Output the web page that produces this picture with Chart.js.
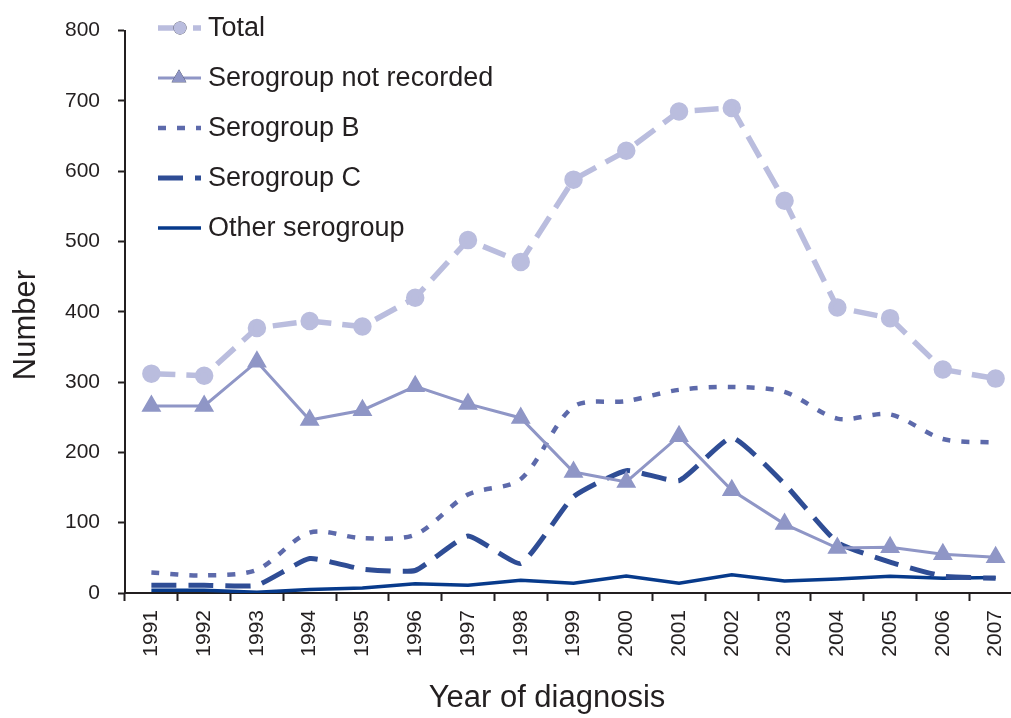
<!DOCTYPE html>
<html>
<head>
<meta charset="utf-8">
<script src="https://cdn.jsdelivr.net/npm/chart.js@4/dist/chart.umd.min.js"></script>
<style>
  html, body { margin: 0; padding: 0; background: #fff; overflow: hidden; }
  /* the source figure is cropped through the last category, so the canvas runs past the right edge */
  #wrap { width: 1011px; height: 718px; overflow: hidden; }
</style>
</head>
<body>
<div id="wrap"><canvas id="chart" width="1034" height="718" style="width:1034px;height:718px"></canvas></div>
<script>
const years = ['1991', '1992', '1993', '1994', '1995', '1996', '1997', '1998', '1999',
  '2000', '2001', '2002', '2003', '2004', '2005', '2006', '2007'];
const total = [312, 309, 377, 387, 379, 420, 502, 471, 588, 629, 685, 690, 558, 406, 391, 318, 305];
const notRecorded = [266, 266, 329, 246, 260, 294, 269, 249, 172, 158, 223, 146, 98, 64, 65, 55, 51];
const serogroupB = [29, 25, 33, 86, 78, 83, 140, 162, 265, 273, 289, 293, 286, 248, 254, 219, 214];
const serogroupC = [11, 11, 11, 49, 34, 32, 81, 42, 137, 174, 160, 221, 155, 72, 44, 24, 21];
const otherGroup = [4, 4, 1, 5, 7, 13, 11, 18, 14, 24, 14, 26, 17, 20, 24, 21, 22];
const yTicks = [0, 100, 200, 300, 400, 500, 600, 700, 800];
const xTitle = 'Year of diagnosis';
const yTitle = 'Number';

const TEXT = '#231f20';
const FONT = "'Liberation Sans', Arial, sans-serif";

// legend inside the plot (top left) and the two axis titles, placed as in the figure
const figureText = {
  id: 'figureText',
  afterDraw(chart) {
    const ctx = chart.ctx;
    const x0 = 158, x1 = 201, tx = 208;
    chart.data.datasets.forEach((ds, i) => {
      const y = 28 + i * 50;
      ctx.save();
      ctx.strokeStyle = ds.borderColor;
      ctx.lineWidth = ds.borderWidth;
      ctx.setLineDash(ds.borderDash || []);
      ctx.beginPath();
      ctx.moveTo(x0, y);
      ctx.lineTo(x1, y);
      ctx.stroke();
      ctx.setLineDash([]);
      if (ds.pointRadius > 0) {
        Chart.helpers.drawPoint(ctx, {
          pointStyle: ds.pointStyle,
          radius: ds.pointRadius,
          rotation: 0,
          borderWidth: 0
        }, ds.pointStyle === 'circle' ? 180 : 179, y);
        ctx.fillStyle = ds.borderColor;
        ctx.fill();
      }
      ctx.fillStyle = TEXT;
      ctx.font = '27px ' + FONT;
      ctx.textBaseline = 'middle';
      ctx.fillText(ds.label, tx, y + 1);
      ctx.restore();
    });

    ctx.save();
    ctx.fillStyle = TEXT;
    ctx.font = '31px ' + FONT;
    ctx.textAlign = 'center';
    ctx.textBaseline = 'middle';
    ctx.fillText(xTitle, 547, 698);
    ctx.translate(26, 325);
    ctx.rotate(-Math.PI / 2);
    ctx.fillText(yTitle, 0, 0);
    ctx.restore();
  }
};

new Chart(document.getElementById('chart'), {
  type: 'line',
  data: {
    labels: years,
    datasets: [
      {
        label: 'Total',
        data: total,
        borderColor: '#babdde',
        backgroundColor: '#babdde',
        borderWidth: 5.5,
        borderDash: [24, 11],
        pointStyle: 'circle',
        pointRadius: 6.5,
        tension: 0,
      },
      {
        label: 'Serogroup not recorded',
        data: notRecorded,
        borderColor: '#8f96c6',
        backgroundColor: '#8f96c6',
        borderWidth: 3,
        pointStyle: 'triangle',
        pointRadius: 8.5,
        tension: 0,
      },
      {
        label: 'Serogroup B',
        data: serogroupB,
        borderColor: '#5d6aab',
        backgroundColor: '#5d6aab',
        borderWidth: 4.5,
        borderDash: [8, 11],
        pointRadius: 0,
        tension: 0.3,
      },
      {
        label: 'Serogroup C',
        data: serogroupC,
        borderColor: '#2f4d95',
        backgroundColor: '#2f4d95',
        borderWidth: 5,
        borderDash: [25, 12],
        pointRadius: 0,
        tension: 0.15,
      },
      {
        label: 'Other serogroup',
        data: otherGroup,
        borderColor: '#073a8b',
        backgroundColor: '#073a8b',
        borderWidth: 3.5,
        pointRadius: 0,
        tension: 0,
      },
    ],
  },
  options: {
    responsive: false,
    animation: false,
    devicePixelRatio: 1,
    layout: { padding: { top: 27, right: 0, left: 0, bottom: 0 } },
    plugins: { legend: { display: false }, tooltip: { enabled: false } },
    scales: {
      x: {
        type: 'category',
        offset: true,
        afterFit: (s) => { s.height = 125; s.paddingLeft = 0; s.paddingRight = 0; },
        grid: { offset: true, drawOnChartArea: false, tickLength: 8, color: TEXT, tickWidth: 2 },
        border: { color: TEXT, width: 2 },
        ticks: { color: TEXT, font: { family: FONT, size: 21 }, maxRotation: 90, minRotation: 90, padding: 9, autoSkip: false },
      },
      y: {
        min: 0,
        max: 800,
        afterFit: (s) => { s.width = 125; },
        afterBuildTicks: (s) => { s.ticks = yTicks.map((v) => ({ value: v })); },
        grid: { drawOnChartArea: false, tickLength: 7, color: TEXT, tickWidth: 2 },
        border: { color: TEXT, width: 2 },
        ticks: { color: TEXT, font: { family: FONT, size: 21 }, padding: 18 },
      },
    },
  },
  plugins: [figureText],
});
</script>
</body>
</html>
